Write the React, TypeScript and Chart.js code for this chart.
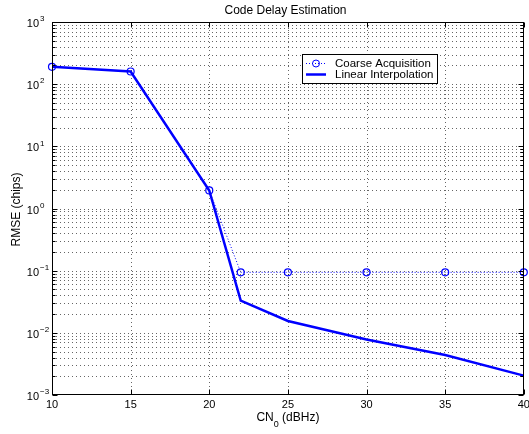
import React, { useEffect, useRef } from "react";
import { Chart, registerables } from "chart.js";

Chart.register(...registerables);

const cnValues = [10, 15, 20, 22, 25, 30, 35, 40];
const coarseRmse = [190, 160, 1.95, 0.094, 0.094, 0.094, 0.094, 0.094];
const linearRmse = [190, 160, 1.95, 0.033, 0.0155, 0.0078, 0.0044, 0.00205];
const xTicks = [10, 15, 20, 25, 30, 35, 40];
const yExponents = [-3, -2, -1, 0, 1, 2, 3];
const titleText = "Code Delay Estimation";
const yTitle = "RMSE (chips)";
const legendLabels = ["Coarse Acquisition", "Linear Interpolation"];

const FONT = "'Liberation Sans', Arial, Helvetica, sans-serif";
const BLUE = "#0000ff";

const matlabPlugin = {
  id: "matlab",
  beforeDatasetsDraw(chart: any) {
    const { ctx, chartArea: a, scales } = chart;
    const xs = scales.x;
    const ys = scales.y;
    ctx.save();
    ctx.strokeStyle = "rgba(0,0,0,0.6)";
    ctx.lineWidth = 1;
    ctx.setLineDash([1, 3]);
    for (const t of xTicks) {
      if (t === 10 || t === 40) continue;
      const px = Math.round(xs.getPixelForValue(t)) + 0.5;
      ctx.beginPath();
      ctx.moveTo(px, a.top);
      ctx.lineTo(px, a.bottom);
      ctx.stroke();
    }
    for (let e = -3; e < 3; e++) {
      for (let k = 1; k <= 9; k++) {
        if (e === -3 && k === 1) continue;
        const v = k * Math.pow(10, e);
        const py = Math.round(ys.getPixelForValue(v)) + 0.5;
        ctx.beginPath();
        ctx.moveTo(a.left, py);
        ctx.lineTo(a.right, py);
        ctx.stroke();
      }
    }
    ctx.restore();
  },
  afterDatasetsDraw(chart: any) {
    const { ctx, chartArea: a, scales } = chart;
    const xs = scales.x;
    const ys = scales.y;
    ctx.save();
    ctx.setLineDash([]);
    ctx.strokeStyle = "#000";
    ctx.lineWidth = 1;
    const L = Math.round(a.left) + 0.5;
    const R = Math.round(a.right) - 0.5;
    const T = Math.round(a.top) + 0.5;
    const B = Math.round(a.bottom) - 0.5;
    ctx.strokeRect(L, T, R - L, B - T);
    ctx.beginPath();
    for (const t of xTicks) {
      const px = Math.round(xs.getPixelForValue(t)) + 0.5;
      ctx.moveTo(px, B);
      ctx.lineTo(px, B - 5);
      ctx.moveTo(px, T);
      ctx.lineTo(px, T + 5);
    }
    for (let e = -3; e <= 3; e++) {
      for (let k = 1; k <= 9; k++) {
        if (e === 3 && k > 1) break;
        const v = k * Math.pow(10, e);
        const py = Math.round(ys.getPixelForValue(v)) + 0.5;
        const len = k === 1 ? 5 : 3;
        ctx.moveTo(L, py);
        ctx.lineTo(L + len, py);
        ctx.moveTo(R, py);
        ctx.lineTo(R - len, py);
      }
    }
    ctx.stroke();

    ctx.fillStyle = "#000";
    ctx.font = `11px ${FONT}`;
    ctx.textAlign = "center";
    ctx.textBaseline = "middle";
    for (const t of xTicks) {
      ctx.fillText(String(t), xs.getPixelForValue(t), 405);
    }
    for (const e of yExponents) {
      const py = ys.getPixelForValue(Math.pow(10, e));
      ctx.font = `11px ${FONT}`;
      ctx.textAlign = "right";
      ctx.textBaseline = "middle";
      ctx.fillText("10", 39, py + 2);
      ctx.font = `8px ${FONT}`;
      ctx.textAlign = "left";
      ctx.fillText(e < 0 ? "\u2212" + Math.abs(e) : String(e), 40, py - 3);
    }
    // title
    ctx.font = `12px ${FONT}`;
    ctx.textAlign = "center";
    ctx.textBaseline = "alphabetic";
    ctx.fillText(titleText, 285.5, 14);
    // x title: CN_0 (dBHz)
    const cx = (a.left + a.right) / 2;
    const p1 = "CN";
    const p2 = "0";
    const p3 = " (dBHz)";
    ctx.textBaseline = "middle";
    ctx.font = `12px ${FONT}`;
    const w1 = ctx.measureText(p1).width;
    const w3 = ctx.measureText(p3).width;
    ctx.font = `9px ${FONT}`;
    const w2 = ctx.measureText(p2).width;
    const sx = cx - (w1 + w2 + w3) / 2;
    ctx.textAlign = "left";
    ctx.font = `12px ${FONT}`;
    ctx.fillText(p1, sx, 418);
    ctx.font = `9px ${FONT}`;
    ctx.fillText(p2, sx + w1, 425);
    ctx.font = `12px ${FONT}`;
    ctx.fillText(p3, sx + w1 + w2, 418);
    // y title
    ctx.save();
    ctx.translate(17, (a.top + a.bottom) / 2 + 1);
    ctx.rotate(-Math.PI / 2);
    ctx.textAlign = "center";
    ctx.fillText(yTitle, 0, 0);
    ctx.restore();

    // legend
    const lx = 302.5, ly = 54.5, lw = 135, lh = 29;
    ctx.fillStyle = "#fff";
    ctx.fillRect(lx, ly, lw, lh);
    ctx.strokeStyle = "#000";
    ctx.lineWidth = 1;
    ctx.strokeRect(lx, ly, lw, lh);
    ctx.strokeStyle = BLUE;
    ctx.setLineDash([1, 2]);
    ctx.beginPath();
    ctx.moveTo(306, 63.5);
    ctx.lineTo(326, 63.5);
    ctx.stroke();
    ctx.setLineDash([]);
    ctx.beginPath();
    ctx.arc(316, 63.5, 3.5, 0, Math.PI * 2);
    ctx.stroke();
    ctx.lineWidth = 2.5;
    ctx.beginPath();
    ctx.moveTo(306, 74.5);
    ctx.lineTo(326, 74.5);
    ctx.stroke();
    ctx.fillStyle = "#000";
    ctx.font = `11.5px ${FONT}`;
    ctx.textAlign = "left";
    ctx.textBaseline = "middle";
    ctx.fillText(legendLabels[0], 335, 63.5);
    ctx.fillText(legendLabels[1], 335, 75);
    ctx.restore();
  },
};

export default function App() {
  const ref = useRef<HTMLCanvasElement | null>(null);
  useEffect(() => {
    document.body.style.margin = "0";
    const canvas = ref.current;
    if (!canvas) return;
    const chart = new Chart(canvas, {
      type: "line",
      data: {
        datasets: [
          {
            label: legendLabels[0],
            data: cnValues.map((x, i) => ({ x, y: coarseRmse[i] })),
            borderColor: BLUE,
            borderWidth: 1,
            borderDash: [1, 2],
            pointRadius: 3.5,
            pointBorderWidth: 1.2,
            pointBackgroundColor: "rgba(0,0,0,0)",
            pointBorderColor: BLUE,
            fill: false,
            clip: false as any,
          },
          {
            label: legendLabels[1],
            data: cnValues.map((x, i) => ({ x, y: linearRmse[i] })),
            borderColor: BLUE,
            borderWidth: 2.5,
            pointRadius: 0,
            fill: false,
          },
        ],
      },
      options: {
        responsive: false,
        animation: false,
        devicePixelRatio: 1,
        layout: { padding: { left: 52, top: 22, right: 4, bottom: 39 } },
        plugins: { legend: { display: false }, tooltip: { enabled: false }, title: { display: false } },
        scales: {
          x: { type: "linear", display: false, min: 10, max: 40 },
          y: { type: "logarithmic", display: false, min: 0.001, max: 1000 },
        },
      },
      plugins: [matlabPlugin],
    });
    return () => chart.destroy();
  }, []);
  return <canvas ref={ref} width={529} height={434} style={{ display: "block" }} />;
}
